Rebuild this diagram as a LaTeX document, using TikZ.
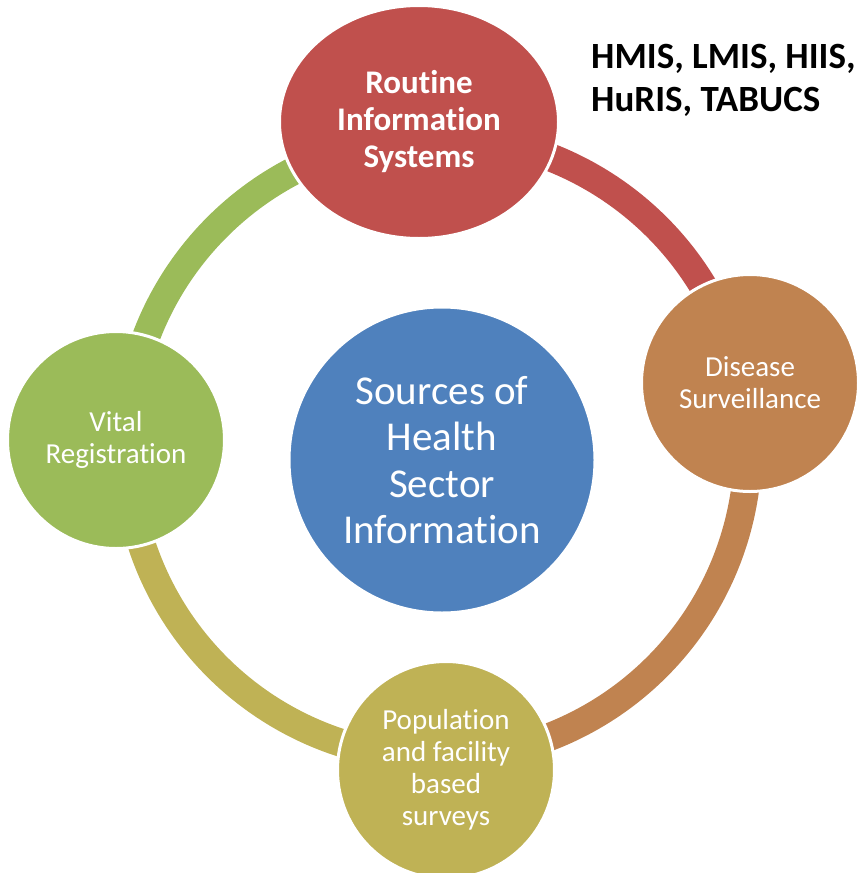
\documentclass[tikz,border=0pt]{standalone}
\usepackage{fontspec}
\setmainfont{Carlito}[Ligatures={NoCommon}]
\usetikzlibrary{shapes.geometric}
\definecolor{cred}{RGB}{192,80,77}
\definecolor{corange}{RGB}{192,131,80}
\definecolor{colive}{RGB}{191,178,85}
\definecolor{cgreen}{RGB}{155,187,89}
\definecolor{cblue}{RGB}{79,129,189}
\tikzset{
  ringarc/.style={line width=28pt, line cap=butt},
  bubble/.style={circle, draw=white, line width=3pt, inner sep=0pt, align=center, text=white, minimum size=217pt},
  lbl/.style={font=\fontsize{29}{32}\selectfont},
}
\begin{document}
\begin{tikzpicture}[x=1pt,y=-1pt]
\useasboundingbox (0,0) rectangle (863,873);
\coordinate (ring) at (437,447);
% ring arcs (clockwise on screen = increasing angle here)
\draw[ringarc, cred]    (ring) ++(-93:311) arc[start angle=-93, end angle=-11, radius=311];
\draw[ringarc, corange] (ring) ++(-11:311) arc[start angle=-11, end angle=88, radius=311];
\draw[ringarc, colive]  (ring) ++(88:311) arc[start angle=88, end angle=181, radius=311];
\draw[ringarc, cgreen]  (ring) ++(181:311) arc[start angle=181, end angle=267, radius=311];
% nodes
\node[bubble, fill=cblue, minimum size=306pt, font=\fontsize{41}{46.5}\selectfont] (center) at (442,460)
  {Sources of\\Health\\Sector\\Information};
\node[ellipse, draw=white, line width=3pt, inner sep=0pt, align=center, text=white, fill=cred,
  minimum width=279pt, minimum height=233pt, font=\bfseries\fontsize{33}{37}\selectfont] (ris) at (419,122)
  {Routine\\Information\\Systems};
\node[bubble, fill=corange, lbl] (ds) at (750,383) {Disease\\Surveillance};
\node[bubble, fill=colive, lbl] (pfs) at (446,770) {Population\\and facility\\based\\surveys};
\node[bubble, fill=cgreen, lbl] (vr) at (116,440) {Vital\\Registration};
\node[anchor=north west, align=left, inner sep=0pt, font=\bfseries\fontsize{37}{43}\selectfont] (sys) at (591,44)
  {HMIS, LMIS, HIIS,\\HuRIS, TABUCS};
\end{tikzpicture}
\end{document}
